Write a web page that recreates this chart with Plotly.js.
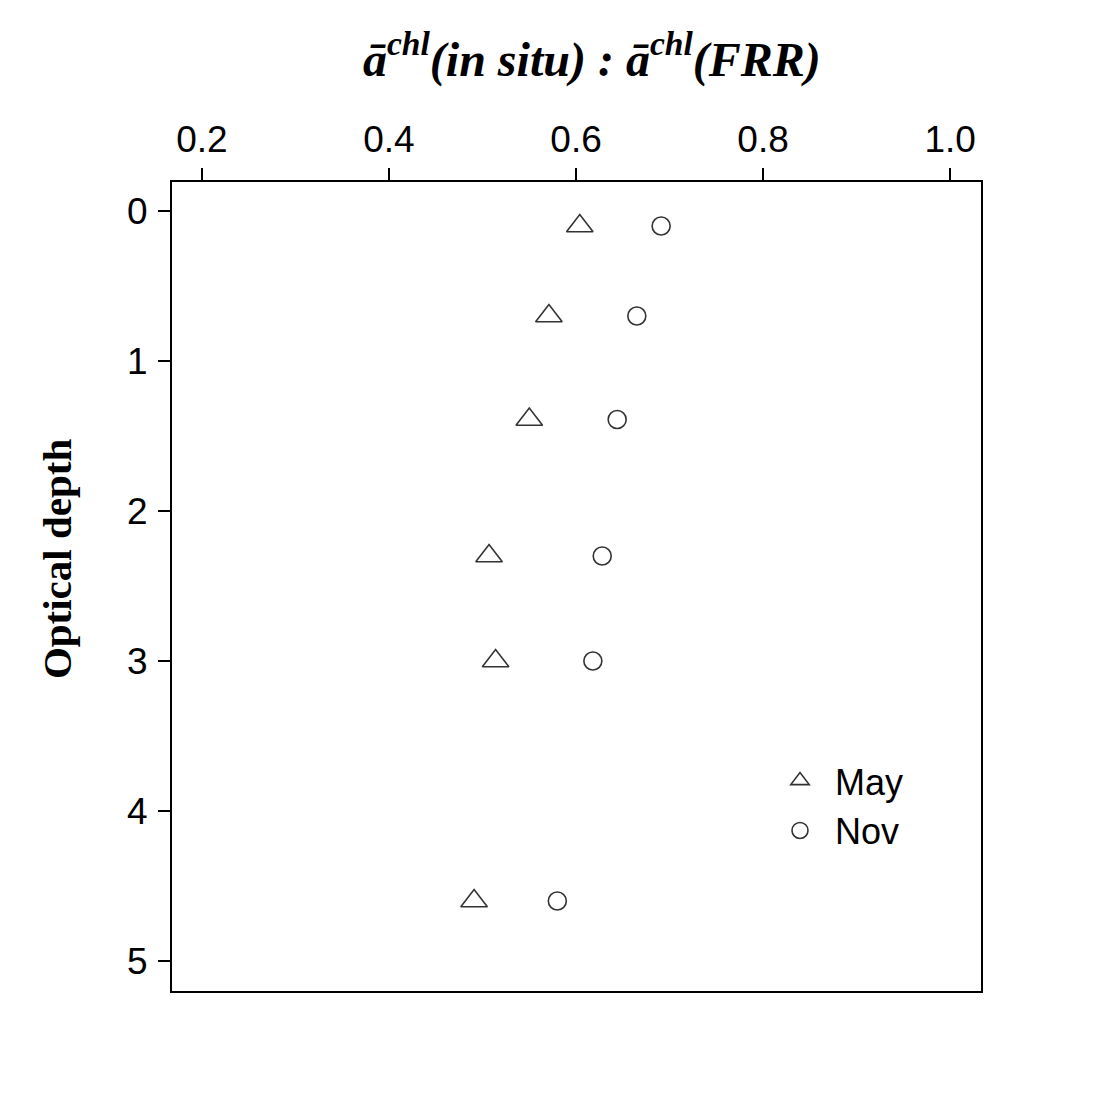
<!DOCTYPE html>
<html>
<head>
<meta charset="utf-8">
<script src="https://cdn.plot.ly/plotly-3.0.1.min.js"></script>
<style>html,body{margin:0;padding:0;background:#fff;}#chart{width:1104px;height:1109px;}</style>
</head>
<body>
<div id="chart"></div>
<script>
// Optical depth (shared by both campaigns)
const opticalDepth = [0.1, 0.7, 1.39, 2.3, 3.0, 4.6];
// Ratio a_chl(in situ) : a_chl(FRR)
const mayRatio = [0.604, 0.571, 0.550, 0.507, 0.514, 0.491];
const novRatio = [0.691, 0.665, 0.644, 0.628, 0.618, 0.580];
const seriesNames = ["May", "Nov"];
const xTicks = [0.2, 0.4, 0.6, 0.8, 1.0];
const xTickText = ["0.2", "0.4", "0.6", "0.8", "1.0"];
const yTicks = [0, 1, 2, 3, 4, 5];

const lineCol = "#333333";
const traces = [
  {x: mayRatio, y: opticalDepth, name: seriesNames[0], type: "scatter", mode: "markers",
   marker: {symbol: "triangle-up-open", size: 23, color: lineCol, line: {width: 1.6, color: lineCol}}},
  {x: novRatio, y: opticalDepth, name: seriesNames[1], type: "scatter", mode: "markers",
   marker: {symbol: "circle-open", size: 18, color: lineCol, line: {width: 1.6, color: lineCol}}}
];

const tickFont = {family: "Liberation Sans, Arial, sans-serif", size: 37, color: "#000"};
const layout = {
  width: 1104, height: 1109,
  paper_bgcolor: "#fff", plot_bgcolor: "#fff",
  margin: {l: 172, r: 123, t: 182, b: 118},
  title: {
    text: "<b><i>ā<sup>chl</sup>(in situ) : ā<sup>chl</sup>(FRR)</i></b>",
    font: {family: "Liberation Serif, DejaVu Serif, serif", size: 48, color: "#000"},
    x: 0.519, xanchor: "center", xref: "paper",
    y: 0.947, yanchor: "middle", yref: "container"
  },
  xaxis: {
    side: "top", range: [0.168, 1.033], tickvals: xTicks, ticktext: xTickText,
    ticks: "outside", ticklen: 12, tickwidth: 1.5, tickcolor: "#000",
    showline: true, linecolor: "#000", linewidth: 2, mirror: true,
    showgrid: false, zeroline: false, tickfont: tickFont, ticklabelstandoff: 1
  },
  yaxis: {
    range: [5.2, -0.193], tickvals: yTicks,
    ticks: "outside", ticklen: 12, tickwidth: 1.5, tickcolor: "#000",
    showline: true, linecolor: "#000", linewidth: 2, mirror: true,
    showgrid: false, zeroline: false, tickfont: tickFont, ticklabelstandoff: 3
  },
  annotations: [{
    text: "<b>Optical depth</b>", textangle: -90,
    font: {family: "Liberation Serif, Times New Roman, serif", size: 41, color: "#000"},
    xref: "paper", yref: "paper", x: -0.142, y: 0.534,
    xanchor: "center", yanchor: "middle", showarrow: false
  }],
  showlegend: true,
  legend: {
    x: 0.733, xanchor: "left", y: 0.297, yanchor: "top",
    bgcolor: "rgba(0,0,0,0)", borderwidth: 0,
    font: {family: "Liberation Sans, Arial, sans-serif", size: 36, color: "#000"},
    itemwidth: 60, tracegroupgap: 0
  }
};
Plotly.newPlot("chart", traces, layout, {displayModeBar: false, staticPlot: true});
</script>
</body>
</html>
